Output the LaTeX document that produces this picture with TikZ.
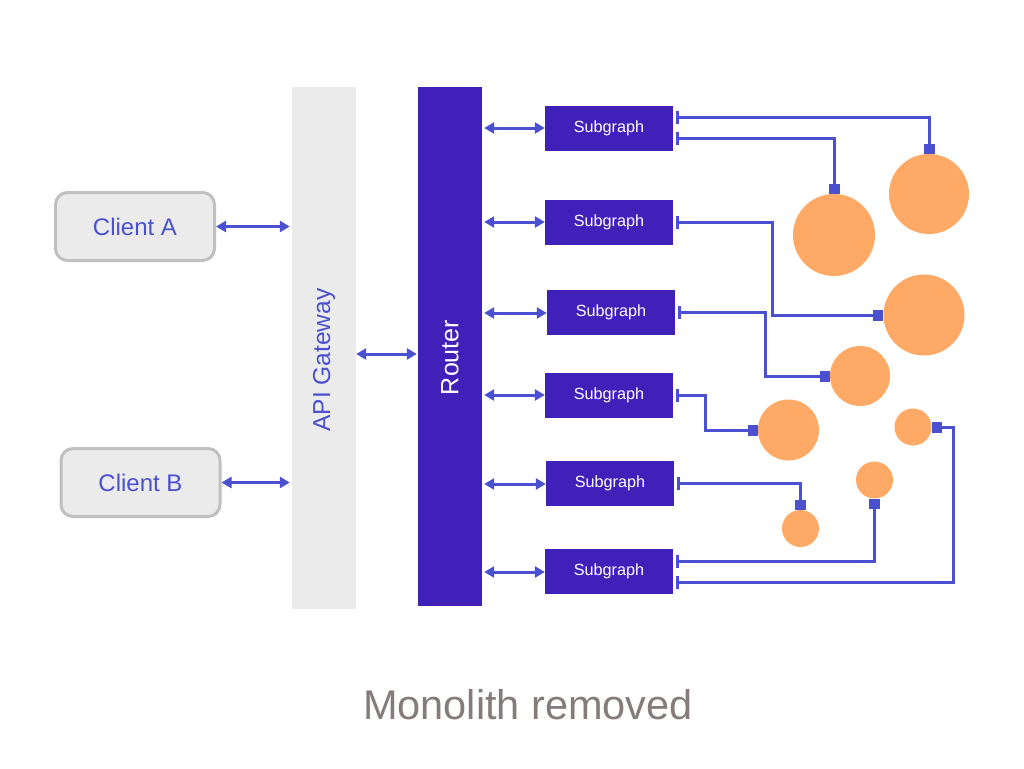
\documentclass[tikz,border=0pt]{standalone}
\usepackage{fontspec}
\setmainfont{Liberation Sans}
\usetikzlibrary{arrows.meta}
\definecolor{bluebox}{HTML}{3F20B8}
\definecolor{linkblue}{HTML}{4A50CF}
\definecolor{grayfill}{HTML}{EBEBEB}
\definecolor{grayline}{HTML}{C0C0C0}
\definecolor{orangec}{HTML}{FFA966}
\definecolor{titlegray}{HTML}{857B7B}
\begin{document}
\begin{tikzpicture}[x=1pt,y=-1pt,
  client/.style={draw=grayline,line width=3pt,fill=grayfill,rounded corners=12pt,
    minimum width=159pt,minimum height=68pt,inner sep=0pt,text=linkblue,
    font=\fontsize{24}{24}\selectfont},
  bar/.style={inner sep=0pt,minimum width=64pt},
  subbox/.style={fill=bluebox,minimum width=128pt,minimum height=45pt,inner sep=0pt,
    text=white,font=\fontsize{16.2}{16.2}\selectfont},
  blob/.style={circle,fill=orangec,inner sep=0pt},
  biarrow/.style={draw=linkblue,line width=3pt,
    {Triangle[length=10pt,width=11pt]}-{Triangle[length=10pt,width=11pt]}},
  link/.style={draw=linkblue,line width=3pt,
    {Bar[width=13pt,line width=3pt]}-{Square[length=10pt,width=11pt]}},
]
\useasboundingbox (0,0) rectangle (1024,768);
\fill[white] (0,0) rectangle (1024,768);

% clients
\node[client] (ca) at (135,226.5) {Client A};
\node[client] (cb) at (140.5,482.5) {Client B};

% gateway and router
\node[bar,fill=grayfill,minimum height=522pt] (gw) at (324,348) {};
\node[rotate=90,text=linkblue,font=\fontsize{24.5}{24.5}\selectfont] (gwl) at (324,360) {API Gateway};
\node[bar,fill=bluebox,minimum height=519pt] (router) at (450,346.5) {};
\node[rotate=90,text=white,font=\fontsize{25}{25}\selectfont] (rl) at (450,357.5) {Router};

% subgraphs
\node[subbox] (s1) at (609,128) {Subgraph};
\node[subbox] (s2) at (609,222.5) {Subgraph};
\node[subbox] (s3) at (611,312.5) {Subgraph};
\node[subbox] (s4) at (609,395.5) {Subgraph};
\node[subbox] (s5) at (610,483.5) {Subgraph};
\node[subbox] (s6) at (609,571.5) {Subgraph};

% circles
\node[blob,minimum size=82pt] (c1) at (834,235) {};
\node[blob,minimum size=80pt] (c2) at (929,194) {};
\node[blob,minimum size=81pt] (c3) at (924,315) {};
\node[blob,minimum size=60pt] (c4) at (860,376) {};
\node[blob,minimum size=61pt] (c5) at (788.5,430) {};
\node[blob,minimum size=37pt] (c6) at (913,427) {};
\node[blob,minimum size=37pt] (c7) at (874.5,480) {};
\node[blob,minimum size=37pt] (c8) at (800.5,528.5) {};

% client / gateway / router arrows
\draw[biarrow,shorten >=2pt] (ca.east) -- (ca.east -| gw.west);
\draw[biarrow,shorten >=2pt] (cb.east) -- (cb.east -| gw.west);
\draw[biarrow,shorten >=1pt] (gw.east |- 0,354) -- (router.west |- 0,354);
\foreach \s/\y in {s1/128,s2/222,s3/313,s4/395,s5/484,s6/572}{
  \draw[biarrow,shorten <=2pt] (router.east |- 0,\y) -- (\s.west |- 0,\y);
}

% subgraph to circle links
\draw[link] ([xshift=3pt,yshift=11pt]s1.east) -| (c2.north);
\draw[link] ([xshift=3pt,yshift=-10pt]s1.east) -| (c1.north);
\draw[link] ([xshift=3pt]s2.east) -- ++(96,0) |- (c3.west);
\draw[link] ([xshift=3pt]s3.east) -- ++(87,0) |- (c4.west);
\draw[link] ([xshift=3pt]s4.east) -- ++(29,0) |- (c5.west);
\draw[link] ([xshift=3pt]s5.east) -| (c8.north);
\draw[link] ([xshift=3pt,yshift=10.5pt]s6.east) -| (c7.south);
\draw[link] ([xshift=3pt,yshift=-10.5pt]s6.east) -- ++(277,0) |- (c6.east);

% title
\node[text=titlegray,font=\fontsize{41.5}{41.5}\selectfont] (title) at (528,705) {Monolith removed};
\end{tikzpicture}
\end{document}
